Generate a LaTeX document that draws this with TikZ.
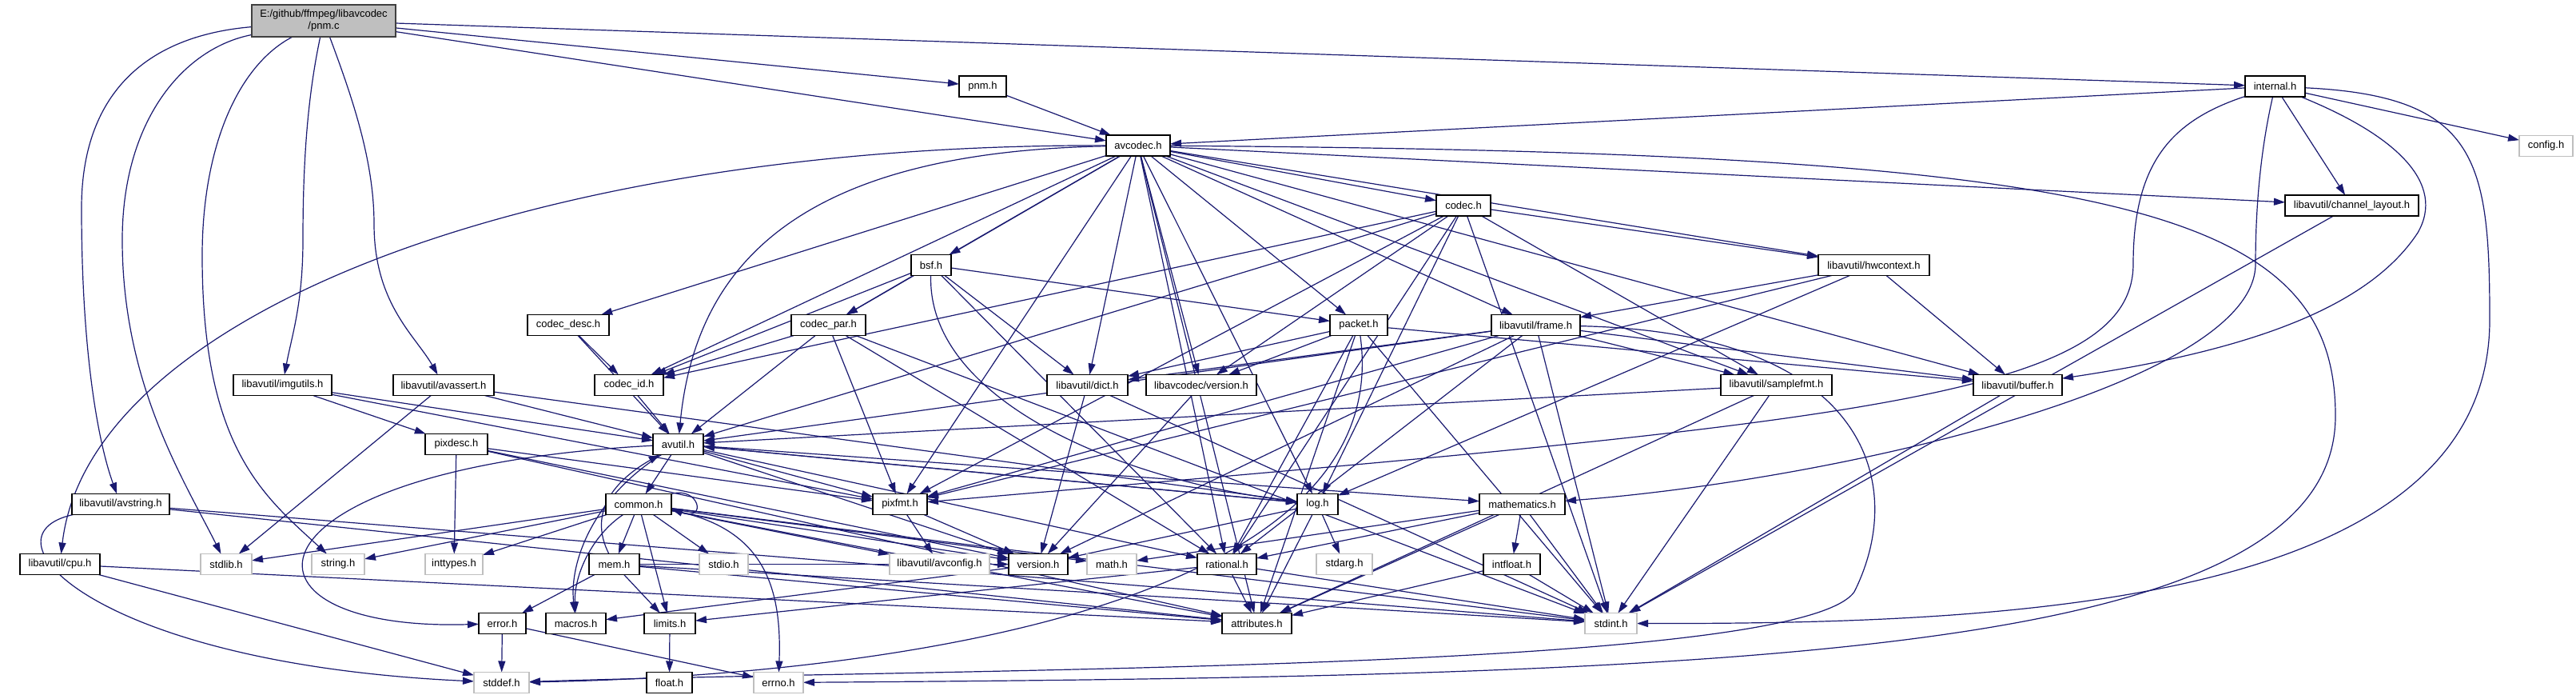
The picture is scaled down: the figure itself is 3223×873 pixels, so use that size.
\documentclass[tikz,border=0pt]{standalone}
\usepackage{fontspec}
\setmainfont{Liberation Sans}
\usetikzlibrary{arrows.meta}
\definecolor{edgeblue}{HTML}{191970}
\definecolor{sysgray}{HTML}{BFBFBF}
\definecolor{rootfill}{HTML}{BFBFBF}
\definecolor{rootdraw}{HTML}{404040}
\pgfdeclarelayer{back}
\pgfdeclarelayer{bg}
\pgfsetlayers{back,bg,main}
\begin{document}
\begin{tikzpicture}[x=1pt,y=-1pt,
  nd/.style={draw=black, line width=1.4pt, fill=white, minimum height=26pt, inner sep=0pt, outer sep=0pt, font=\fontsize{13}{15}\selectfont},
  sys/.style={nd, draw=sysgray},
  e/.style={draw=edgeblue, line width=1.2pt, -{Triangle[length=14pt,width=9pt]}},
]
\begin{pgfonlayer}{back}
\fill[white] (0,0) rectangle (3223,873);
\end{pgfonlayer}
\useasboundingbox (0,0) rectangle (3223,873);

% nodes
\node[nd, fill=rootfill, draw=rootdraw, minimum width=180pt, minimum height=40pt, align=center] (rooth) at (405,26) {E:/github/ffmpeg/libavcodec\\/pnm.c};
\node[nd, minimum width=59pt] (pnmh) at (1229.5,108) {pnm.h};
\node[nd, minimum width=75pt] (internalh) at (2846.5,108) {internal.h};
\node[nd, minimum width=80pt] (avcodech) at (1424,182) {avcodec.h};
\node[sys, minimum width=67pt] (configh) at (3185.5,182.5) {config.h};
\node[nd, minimum width=167pt] (chlayouth) at (2942.5,257) {libavutil/channel\_layout.h};
\node[nd, minimum width=68pt] (codech) at (1831,257) {codec.h};
\node[nd, minimum width=50pt] (bsfh) at (1165,331.5) {bsf.h};
\node[nd, minimum width=139pt] (hwcontexth) at (2344.5,331.5) {libavutil/hwcontext.h};
\node[nd, minimum width=102pt] (codecdesch) at (711,406.5) {codec\_desc.h};
\node[nd, minimum width=93pt] (codecparh) at (1036.5,406.5) {codec\_par.h};
\node[nd, minimum width=72pt] (packeth) at (1700,406.5) {packet.h};
\node[nd, minimum width=111pt] (frameh) at (1921.5,406.5) {libavutil/frame.h};
\node[nd, minimum width=123pt] (imgutilsh) at (353.5,481.5) {libavutil/imgutils.h};
\node[nd, minimum width=126pt] (avasserth) at (555,481.5) {libavutil/avassert.h};
\node[nd, minimum width=86pt] (codecidh) at (787,481.5) {codec\_id.h};
\node[nd, minimum width=101pt] (dicth) at (1360.5,481.5) {libavutil/dict.h};
\node[nd, minimum width=138pt] (avversionh) at (1503,481.5) {libavcodec/version.h};
\node[nd, minimum width=139pt] (samplefmth) at (2222.5,481.5) {libavutil/samplefmt.h};
\node[nd, minimum width=111pt] (bufferh) at (2524.5,481.5) {libavutil/buffer.h};
\node[nd, minimum width=78pt] (pixdesch) at (571,555.5) {pixdesc.h};
\node[nd, minimum width=63pt] (avutilh) at (848.5,555.5) {avutil.h};
\node[nd, minimum width=122pt] (avstringh) at (151,630.5) {libavutil/avstring.h};
\node[nd, minimum width=82pt] (commonh) at (799,630.5) {common.h};
\node[nd, minimum width=68pt] (pixfmth) at (1126,630.5) {pixfmt.h};
\node[nd, minimum width=51pt] (logh) at (1648.5,630.5) {log.h};
\node[nd, minimum width=107pt] (mathematicsh) at (1904.5,630.5) {mathematics.h};
\node[nd, minimum width=100pt] (cpuh) at (75,705.5) {libavutil/cpu.h};
\node[sys, minimum width=64pt] (stdlibh) at (283,705.5) {stdlib.h};
\node[sys, minimum width=66pt] (stringh) at (423,705.5) {string.h};
\node[sys, minimum width=72pt] (inttypesh) at (568,705.5) {inttypes.h};
\node[nd, minimum width=63pt] (memh) at (768.5,705.5) {mem.h};
\node[sys, minimum width=61pt] (stdioh) at (905.5,705.5) {stdio.h};
\node[sys, minimum width=125pt] (avconfigh) at (1175.5,705.5) {libavutil/avconfig.h};
\node[nd, minimum width=74pt] (versionh) at (1299,705.5) {version.h};
\node[sys, minimum width=62pt] (mathh) at (1391,705.5) {math.h};
\node[nd, minimum width=74pt] (rationalh) at (1535,705.5) {rational.h};
\node[sys, minimum width=70pt] (stdargh) at (1682,705.5) {stdarg.h};
\node[nd, minimum width=71pt] (intfloath) at (1891.5,705.5) {intfloat.h};
\node[nd, minimum width=59pt] (errorh) at (628.5,779.5) {error.h};
\node[nd, minimum width=75pt] (macrosh) at (720.5,779.5) {macros.h};
\node[nd, minimum width=64pt] (limitsh) at (838,779.5) {limits.h};
\node[nd, minimum width=87pt] (attributesh) at (1572.5,779.5) {attributes.h};
\node[sys, minimum width=65pt] (stdinth) at (2015.5,779.5) {stdint.h};
\node[sys, minimum width=69pt] (stddefh) at (627.5,853.5) {stddef.h};
\node[nd, minimum width=57pt] (floath) at (837.5,853.5) {float.h};
\node[sys, minimum width=62pt] (errnoh) at (974,853.5) {errno.h};

\begin{pgfonlayer}{bg}
% root
\draw[e] (rooth) .. controls (180,45) and (102,120) .. (102,260) .. controls (102,450) and (125,560) .. (avstringh);
\draw[e] (rooth) .. controls (230,60) and (153,150) .. (153,300) .. controls (153,480) and (230,600) .. (stdlibh);
\draw[e] (rooth) .. controls (300,80) and (253,180) .. (253,320) .. controls (253,560) and (330,620) .. (stringh);
\draw[e] (rooth) .. controls (385,120) and (379,200) .. (379,300) .. controls (379,380) and (365,420) .. (imgutilsh);
\draw[e] (rooth) .. controls (440,120) and (468,200) .. (468,280) .. controls (468,380) and (520,420) .. (avasserth);
\draw[e] (rooth) -- (pnmh);
\draw[e] (rooth) -- (avcodech);
\draw[e] (rooth) -- (internalh);
% pnm
\draw[e] (pnmh) -- (avcodech);
% internal
\draw[e] (internalh) -- (avcodech);
\draw[e] (internalh) -- (configh);
\draw[e] (internalh) -- (chlayouth);
\draw[e] (internalh) .. controls (3100,120) and (3115,200) .. (3115,400) .. controls (3115,760) and (2500,780) .. (stdinth);
\draw[e] (internalh) .. controls (3000,170) and (3060,230) .. (3025,291) .. controls (2960,390) and (2800,440) .. (bufferh);
\draw[e] (internalh) .. controls (2720,150) and (2669,200) .. (2669,330) .. controls (2669,500) and (2300,530) .. (pixfmth);
\draw[e] (internalh) .. controls (2830,180) and (2822,250) .. (2822,330) .. controls (2822,480) and (2300,600) .. (mathematicsh);
% avcodec
\draw[e] (avcodech) -- (chlayouth);
\draw[e] (avcodech) -- (codech);
\draw[e] (avcodech) -- (bsfh);
\draw[e] (avcodech) -- (hwcontexth);
\draw[e] (avcodech) -- (codecdesch);
\draw[e] (avcodech) -- (codecparh);
\draw[e] (avcodech) -- (packeth);
\draw[e] (avcodech) -- (frameh);
\draw[e] (avcodech) -- (codecidh);
\draw[e] (avcodech) -- (dicth);
\draw[e] (avcodech) -- (avversionh);
\draw[e] (avcodech) -- (samplefmth);
\draw[e] (avcodech) -- (bufferh);
\draw[e] (avcodech) -- (logh);
\draw[e] (avcodech) -- (pixfmth);
\draw[e] (avcodech) -- (rationalh);
\draw[e] (avcodech) -- (attributesh);
\draw[e] (avcodech) .. controls (650,180) and (110,400) .. (cpuh);
\draw[e] (avcodech) .. controls (1000,190) and (870,330) .. (avutilh);
\draw[e] (avcodech) .. controls (2650,190) and (2922,260) .. (2922,520) .. controls (2922,820) and (2200,845) .. (errnoh);
% channel layout
\draw[e] (chlayouth) -- (stdinth);
% codec
\draw[e] (codech) -- (stdinth);
\draw[e] (codech) -- (avutilh);
\draw[e] (codech) -- (hwcontexth);
\draw[e] (codech) -- (logh);
\draw[e] (codech) -- (pixfmth);
\draw[e] (codech) -- (rationalh);
\draw[e] (codech) -- (samplefmth);
\draw[e] (codech) -- (codecidh);
\draw[e] (codech) -- (avversionh);
% bsf
\draw[e] (bsfh) -- (dicth);
\draw[e] (bsfh) .. controls (1160,500) and (1400,600) .. (logh);
\draw[e] (bsfh) -- (rationalh);
\draw[e] (bsfh) -- (codecidh);
\draw[e] (bsfh) -- (codecparh);
\draw[e] (bsfh) -- (packeth);
% codec_desc
\draw[e] (codecdesch) -- (avutilh);
\draw[e] (codecdesch) -- (codecidh);
% codec_par
\draw[e] (codecparh) -- (stdinth);
\draw[e] (codecparh) -- (avutilh);
\draw[e] (codecparh) -- (rationalh);
\draw[e] (codecparh) -- (pixfmth);
\draw[e] (codecparh) -- (codecidh);
% packet
\draw[e] (packeth) -- (stdinth);
\draw[e] (packeth) -- (attributesh);
\draw[e] (packeth) -- (bufferh);
\draw[e] (packeth) -- (dicth);
\draw[e] (packeth) -- (rationalh);
\draw[e] (packeth) -- (avversionh);
\draw[e] (packeth) .. controls (1750,760) and (1100,845) .. (stddefh);
% frame
\draw[e] (frameh) -- (stdinth);
\draw[e] (frameh) -- (avutilh);
\draw[e] (frameh) -- (bufferh);
\draw[e] (frameh) -- (dicth);
\draw[e] (frameh) -- (rationalh);
\draw[e] (frameh) -- (samplefmth);
\draw[e] (frameh) -- (pixfmth);
\draw[e] (frameh) -- (versionh);
\draw[e] (frameh) .. controls (2330,415) and (2390,600) .. (2320,740) .. controls (2250,840) and (1200,835) .. (stddefh);
% hwcontext
\draw[e] (hwcontexth) -- (bufferh);
\draw[e] (hwcontexth) -- (frameh);
\draw[e] (hwcontexth) -- (logh);
\draw[e] (hwcontexth) -- (pixfmth);
% codec_id, dict, version, samplefmt, buffer
\draw[e] (codecidh) -- (avutilh);
\draw[e] (dicth) -- (stdinth);
\draw[e] (dicth) -- (versionh);
\draw[e] (avversionh) -- (versionh);
\draw[e] (samplefmth) -- (stdinth);
\draw[e] (samplefmth) -- (avutilh);
\draw[e] (samplefmth) -- (attributesh);
\draw[e] (bufferh) -- (stdinth);
% imgutils, avassert
\draw[e] (imgutilsh) -- (avutilh);
\draw[e] (imgutilsh) -- (pixdesch);
\draw[e] (imgutilsh) -- (pixfmth);
\draw[e] (avasserth) -- (stdlibh);
\draw[e] (avasserth) -- (avutilh);
\draw[e] (avasserth) -- (logh);
% avutil
\draw[e] (avutilh) -- (commonh);
\draw[e] (avutilh) -- (rationalh);
\draw[e] (avutilh) -- (versionh);
\draw[e] (avutilh) -- (mathematicsh);
\draw[e] (avutilh) -- (logh);
\draw[e] (avutilh) -- (pixfmth);
\draw[e] (avutilh) .. controls (290,585) and (270,790) .. (errorh);
\draw[e] (avutilh) .. controls (745,620) and (712,700) .. (macrosh);
% pixdesc
\draw[e] (pixdesch) -- (inttypesh);
\draw[e] (pixdesch) -- (attributesh);
\draw[e] (pixdesch) -- (pixfmth);
\draw[e] (pixdesch) -- (versionh);
% avstring
\draw[e] (avstringh) -- (stdinth);
\draw[e] (avstringh) -- (attributesh);
\draw[e] (avstringh) .. controls (-30,670) and (120,830) .. (stddefh);
% common
\draw[e] (commonh) -- (inttypesh);
\draw[e] (commonh) -- (limitsh);
\draw[e] (commonh) -- (mathh);
\draw[e] (commonh) -- (stdinth);
\draw[e] (commonh) -- (stdioh);
\draw[e] (commonh) -- (stdlibh);
\draw[e] (commonh) -- (stringh);
\draw[e] (commonh) -- (attributesh);
\draw[e] (commonh) -- (versionh);
\draw[e] (commonh) -- (avconfigh);
\draw[e] (commonh) -- (memh);
\draw[e] (commonh) .. controls (960,660) and (978,740) .. (errnoh);
\draw[e] (commonh) .. controls (740,670) and (718,720) .. (macrosh);
\draw[e] (commonh.north east) .. controls (875,608) and (885,652) .. ([yshift=-6pt]commonh.east);
% mem
\draw[e] (memh) -- (limitsh);
\draw[e] (memh) -- (stdinth);
\draw[e] (memh) -- (attributesh);
\draw[e] (memh) -- (errorh);
\draw[e] (memh) -- (versionh);
\draw[e] (memh) .. controls (735,640) and (770,600) .. (avutilh);
% log
\draw[e] (logh) -- (stdargh);
\draw[e] (logh) -- (avutilh);
\draw[e] (logh) -- (attributesh);
\draw[e] (logh) -- (versionh);
% mathematics
\draw[e] (mathematicsh) -- (stdinth);
\draw[e] (mathematicsh) -- (mathh);
\draw[e] (mathematicsh) -- (attributesh);
\draw[e] (mathematicsh) -- (rationalh);
\draw[e] (mathematicsh) -- (intfloath);
% rational, version, pixfmt, intfloat, error, cpu, limits
\draw[e] (rationalh) -- (stdinth);
\draw[e] (rationalh) -- (limitsh);
\draw[e] (rationalh) -- (attributesh);
\draw[e] (versionh) -- (macrosh);
\draw[e] (pixfmth) -- (avconfigh);
\draw[e] (pixfmth) -- (versionh);
\draw[e] (intfloath) -- (stdinth);
\draw[e] (intfloath) -- (attributesh);
\draw[e] (errorh) -- (errnoh);
\draw[e] (errorh) -- (stddefh);
\draw[e] (cpuh) -- (stddefh);
\draw[e] (cpuh) -- (attributesh);
\draw[e] (limitsh) -- (floath);
\end{pgfonlayer}
\end{tikzpicture}
\end{document}
